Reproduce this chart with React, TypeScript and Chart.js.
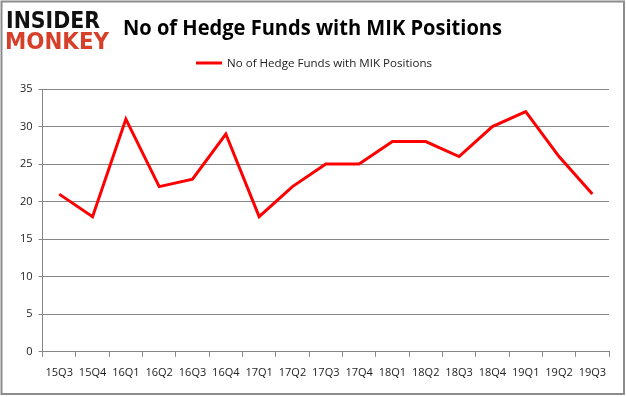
import React, { useEffect, useRef } from "react";
import { Chart, registerables } from "chart.js";

Chart.register(...registerables);

const categories = ["15Q3","15Q4","16Q1","16Q2","16Q3","16Q4","17Q1","17Q2","17Q3","17Q4","18Q1","18Q2","18Q3","18Q4","19Q1","19Q2","19Q3"];
const hedgeFunds = [21, 18, 31, 22, 23, 29, 18, 22, 25, 25, 28, 28, 26, 30, 32, 26, 21];
const seriesLabel = "No of Hedge Funds with MIK Positions";
const titleText = "No of Hedge Funds with MIK Positions";

function fitText(ctx: CanvasRenderingContext2D, text: string, x: number, y: number, w: number) {
  const m = ctx.measureText(text).width;
  ctx.save();
  ctx.translate(x, y);
  ctx.scale(w / m, 1);
  ctx.fillText(text, 0, 0);
  ctx.restore();
}

const decorPlugin = {
  id: "decor",
  afterDraw(chart: any) {
    const ctx = chart.ctx as CanvasRenderingContext2D;
    ctx.save();
    // border
    ctx.strokeStyle = "#8c8c8c";
    ctx.lineWidth = 2;
    ctx.strokeRect(1.5, 1.5, 622.5, 392.5);
    // logo
    ctx.textBaseline = "alphabetic";
    ctx.textAlign = "left";
    ctx.fillStyle = "#111111";
    ctx.font = "bold 23px 'DejaVu Sans'";
    fitText(ctx, "INSIDER", 6, 28, 94);
    ctx.fillStyle = "#d6402a";
    fitText(ctx, "MONKEY", 5, 49, 104);
    // title
    ctx.fillStyle = "#000000";
    ctx.font = "bold 21px 'Open Sans'";
    fitText(ctx, titleText, 123, 35, 379);
    // legend
    ctx.strokeStyle = "#ff0000";
    ctx.lineWidth = 3;
    ctx.beginPath();
    ctx.moveTo(196, 63);
    ctx.lineTo(222, 63);
    ctx.stroke();
    ctx.fillStyle = "#222222";
    ctx.font = "11px 'Open Sans'";
    fitText(ctx, seriesLabel, 227, 67, 205);
    ctx.restore();
  },
};

export default function App() {
  const ref = useRef<HTMLCanvasElement>(null);
  useEffect(() => {
    document.body.style.margin = "0";
    const chart = new Chart(ref.current!, {
      type: "line",
      data: {
        labels: categories,
        datasets: [
          {
            label: seriesLabel,
            data: hedgeFunds,
            borderColor: "#ff0000",
            backgroundColor: "#ff0000",
            borderWidth: 3,
            pointRadius: 0,
            tension: 0,
          },
        ],
      },
      options: {
        animation: false,
        responsive: false,
        layout: { padding: { top: 89, left: 14, right: 17, bottom: 9 } },
        plugins: {
          legend: { display: false },
          title: { display: false },
          tooltip: { enabled: false },
        },
        scales: {
          x: {
            offset: true,
            grid: {
              offset: true,
              drawOnChartArea: false,
              drawTicks: true,
              tickLength: 5,
              color: "#868686",
            },
            border: { color: "#868686" },
            ticks: {
              color: "#222222",
              font: { family: "'Open Sans'", size: 11 },
              maxRotation: 0,
              autoSkip: false,
              padding: 9,
            },
          },
          y: {
            min: 0,
            max: 35,
            grid: { color: "#868686", tickLength: 4 },
            border: { color: "#868686" },
            ticks: {
              stepSize: 5,
              color: "#222222",
              font: { family: "'Open Sans'", size: 11 },
              padding: 6,
            },
          },
        },
      },
      plugins: [decorPlugin],
    });
    return () => chart.destroy();
  }, []);
  return (
    <div style={{ position: "absolute", left: 0, top: 0, width: 626, height: 397 }}>
      <canvas ref={ref} width={626} height={397} />
    </div>
  );
}
